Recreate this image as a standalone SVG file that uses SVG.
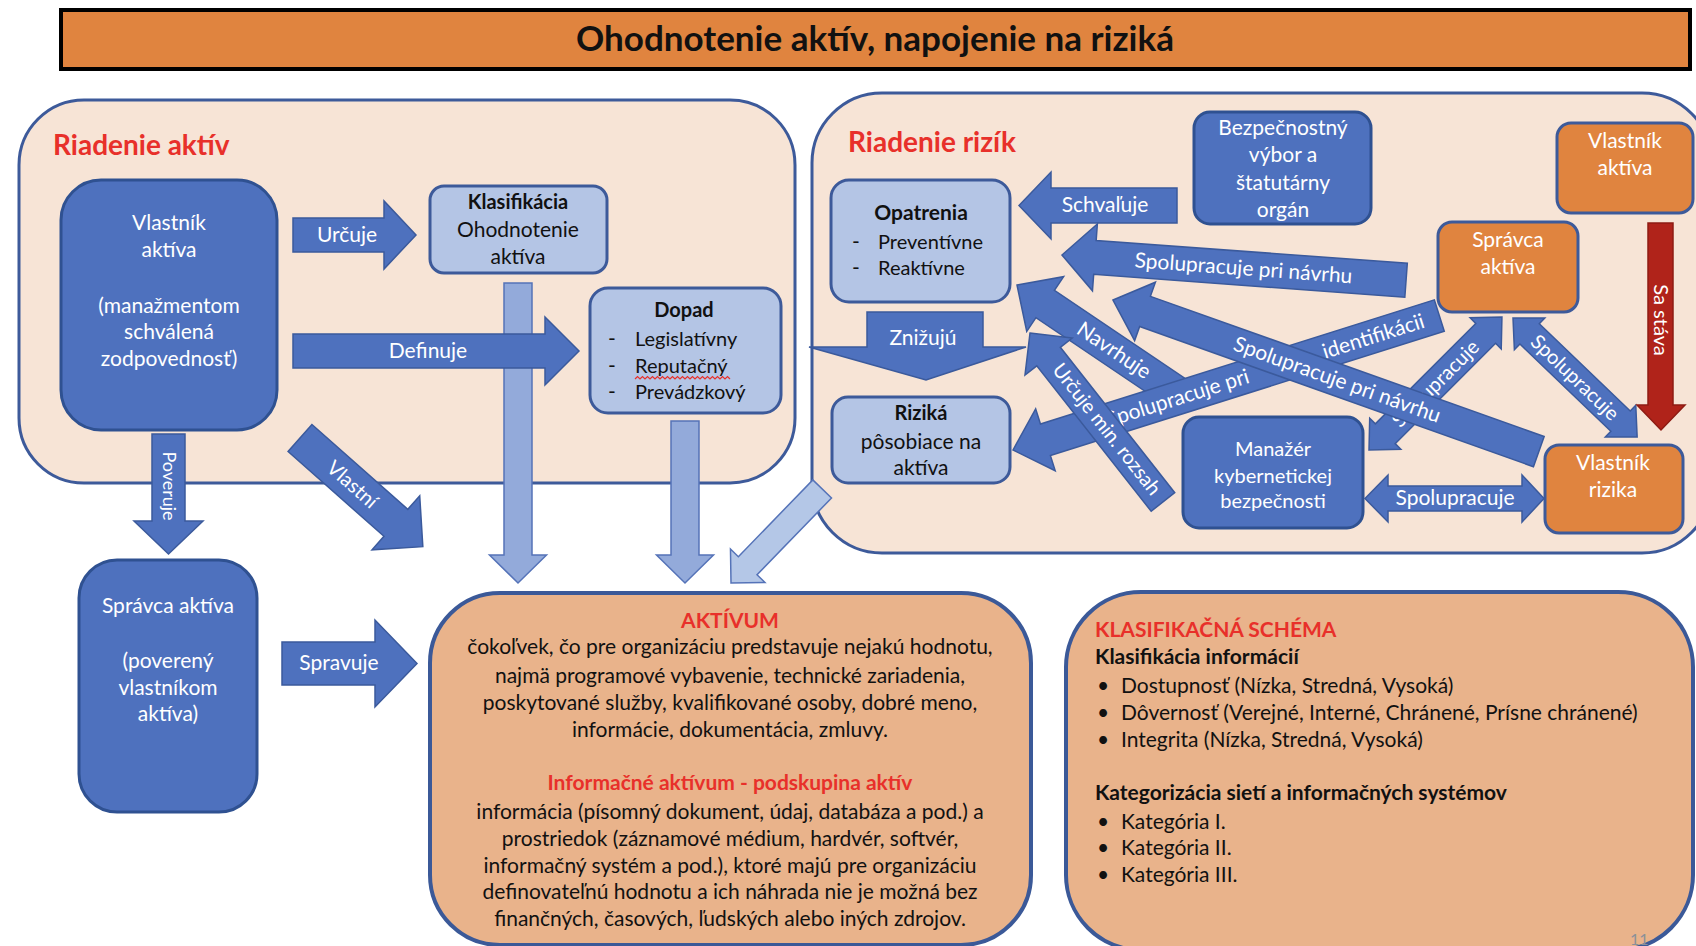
<svg xmlns="http://www.w3.org/2000/svg" width="1696" height="946" viewBox="0 0 1696 946">
<style>
text{font-family:Lato,"Liberation Sans","DejaVu Sans",sans-serif;font-size:21px}
.c{text-anchor:middle}
.w{fill:#fff}
.k{fill:#111}
.b{font-weight:bold}
.r{fill:#E8302A}
.s19{font-size:20px}
.panel{fill:#F7E4D6;stroke:#3D5A9A;stroke-width:3}
.big{fill:#E9B38B;stroke:#3B5998;stroke-width:4}
.bn{fill:#4E71BE;stroke:#2F5191;stroke-width:3}
.ln{fill:#B4C5E5;stroke:#3D5A9A;stroke-width:3}
.on{fill:#E0843F;stroke:#3D5A9A;stroke-width:3}
.ba{fill:#4E71BE;stroke:#3B5A9C;stroke-width:1.5}
.la{fill:#93AADA;stroke:#5573B8;stroke-width:1.5}
.la2{fill:#B4C7E7;stroke:#5573B8;stroke-width:1.5}
.ra{fill:#B0231A;stroke:#8E1B13;stroke-width:1.5}
</style>

<!-- Title -->
<g id="title">
<rect x="61" y="10" width="1629" height="59" fill="#E0843F" stroke="#000" stroke-width="4"/>
<text x="875" y="51" class="c b k" style="font-size:35px">Ohodnotenie aktív, napojenie na riziká</text>
</g>

<!-- Panels -->
<g id="panel-aktiv">
<rect x="19" y="100" width="776" height="383" rx="65" class="panel"/>
<text x="53" y="155" class="b r" style="font-size:28px">Riadenie aktív</text>
</g>
<g id="panel-rizik">
<rect x="812" y="93" width="900" height="460" rx="70" class="panel"/>
<text x="848" y="152" class="b r" style="font-size:28px">Riadenie rizík</text>
</g>

<!-- Connectors -->
<g id="connectors">
<!-- left panel -->
<g id="c-klas-akt"><polygon class="la" points="504,283 532,283 532,555 546.5,555 518,583 489.5,555 504,555"/></g>
<g id="c-dopad-akt"><polygon class="la" points="671,421 699,421 699,555 713.5,555 685,583 656.5,555 671,555"/></g>
<g id="c-urcuje"><polygon class="ba" points="293,218 384,218 384,201 416,235 384,269 384,252 293,252"/>
<text x="347" y="242" class="c w">Určuje</text></g>
<g id="c-definuje"><polygon class="ba" points="293,334 545,334 545,317 579,351 545,385 545,368 293,368"/>
<text x="428" y="358" class="c w">Definuje</text></g>
<g id="c-poveruje"><polygon class="ba" points="152,434 185,434 185,521 203,521 168.5,554 134,521 152,521"/>
<text transform="translate(168.5,486) rotate(90)" y="6" class="c w" style="font-size:18px">Poveruje</text></g>
<g id="c-vlastni" transform="translate(300,438) rotate(41.5)"><polygon class="ba" points="0,-18 128,-18 128,-36 164,0 128,36 128,18 0,18"/>
<text x="70" y="7" class="c w s19">Vlastní</text></g>
<g id="c-spravuje"><polygon class="ba" points="282,642 375,642 375,620 417,663.5 375,707 375,685 282,685"/>
<text x="339" y="670" class="c w">Spravuje</text></g>
<g id="c-rizika-akt" transform="translate(731,583) rotate(-45.9)"><polygon class="la2" points="0,0 24,-24 24,-13 131,-13 131,13 24,13 24,24"/></g>

<!-- right panel -->
<g id="c-znizuju"><polygon class="ba" points="867,312 983,312 983,347 1026,347 926,380 809,347 867,347"/>
<text x="923" y="345" class="c w">Znižujú</text></g>
<g id="c-schvaluje"><polygon class="ba" points="1019,205.5 1051,172 1051,188 1177,188 1177,223 1051,223 1051,239"/>
<text x="1105" y="212" class="c w">Schvaľuje</text></g>
<g id="c-spol-navrh-1" transform="translate(1062,255) rotate(4.2)"><polygon class="ba" points="0,0 33,-33.5 33,-17 345,-17 345,17 33,17 33,33.5"/>
<text x="182" y="7" class="c w">Spolupracuje pri návrhu</text></g>
<g id="c-navrhuje" transform="translate(1017,285) rotate(34)"><polygon class="ba" points="0,0 34,-33 34,-16.5 205,-16.5 205,16.5 34,16.5 34,33"/>
<text x="117" y="7" class="c w">Navrhuje</text></g>
<g id="c-identif" transform="translate(1013,450) rotate(-17.5)"><polygon class="ba" points="0,0 34,-32.5 34,-16.5 447,-16.5 447,16.5 34,16.5 34,32.5"/>
<text x="98" y="7" class="w">Spolupracuje pri<tspan x="325">identifikácii</tspan></text></g>
<g id="c-urcuje-min" transform="translate(1030,333) rotate(51.8)"><polygon class="ba" points="0,0 30,-30 30,-15 215,-15 215,15 30,15 30,30"/>
<text x="123" y="6" class="c w s19">Určuje min. rozsah</text></g>
<g id="c-spol-man-spr" transform="translate(1369,450) rotate(-45)"><polygon class="ba" points="0,0 23,-22 23,-14 165,-14 165,-22 188,0 165,22 165,14 23,14 23,22"/>
<text x="94" y="7" class="c w s19">Spolupracuje</text></g>
<g id="c-spol-navrh-2" transform="translate(1113,300) rotate(19.6)"><polygon class="ba" points="0,0 34,-31 34,-16 452,-16 452,16 34,16 34,31"/>
<text x="238" y="7" class="c w">Spolupracuje pri návrhu</text></g>
<g id="c-spol-spr-vr" transform="translate(1513,318) rotate(43.8)"><polygon class="ba" points="0,0 23,-22 23,-14 149,-14 149,-22 172,0 149,22 149,14 23,14 23,22"/>
<text x="86" y="7" class="c w s19">Spolupracuje</text></g>
<g id="c-spol-man-vr"><polygon class="ba" points="1365,498.5 1388,475 1388,486 1522,486 1522,475 1544,498.5 1522,522 1522,511 1388,511 1388,522"/>
<text x="1455" y="505" class="c w">Spolupracuje</text></g>
<g id="c-sa-stava"><polygon class="ra" points="1648,223 1673,223 1673,405 1685,405 1661,430 1637,405 1648,405"/>
<text transform="translate(1660.5,320) rotate(90)" y="7" class="c w" style="font-size:20px">Sa stáva</text></g>
</g>

<!-- Nodes: left panel -->
<g id="n-vlastnik-aktiva">
<rect x="61" y="180" width="216" height="250" rx="40" class="bn"/>
<text class="c w"><tspan x="169" y="230">Vlastník</tspan><tspan x="169" y="257">aktíva</tspan><tspan x="169" y="313">(manažmentom</tspan><tspan x="169" y="339">schválená</tspan><tspan x="169" y="366">zodpovednosť)</tspan></text>
</g>
<g id="n-klasifikacia">
<rect x="430" y="186" width="177" height="87" rx="14" class="ln"/>
<text x="518" y="209" class="c k b s19">Klasifikácia</text>
<text class="c k"><tspan x="518" y="237">Ohodnotenie</tspan><tspan x="518" y="264">aktíva</tspan></text>
</g>
<g id="n-dopad">
<rect x="590" y="288" width="191" height="125" rx="18" class="ln"/>
<text x="684" y="317" class="c k b s19">Dopad</text>
<text class="k"><tspan x="608" y="346">-</tspan><tspan x="608" y="373">-</tspan><tspan x="608" y="399">-</tspan></text>
<text class="k s19"><tspan x="635" y="346">Legislatívny</tspan><tspan x="635" y="373">Reputačný</tspan><tspan x="635" y="399">Prevádzkový</tspan></text>
<path d="M635,379 l2.5,-2.5 l2.5,2.5 l2.5,-2.5 l2.5,2.5 l2.5,-2.5 l2.5,2.5 l2.5,-2.5 l2.5,2.5 l2.5,-2.5 l2.5,2.5 l2.5,-2.5 l2.5,2.5 l2.5,-2.5 l2.5,2.5 l2.5,-2.5 l2.5,2.5 l2.5,-2.5 l2.5,2.5 l2.5,-2.5 l2.5,2.5 l2.5,-2.5 l2.5,2.5 l2.5,-2.5 l2.5,2.5 l2.5,-2.5 l2.5,2.5 l2.5,-2.5 l2.5,2.5 l2.5,-2.5 l2.5,2.5 l2.5,-2.5 l2.5,2.5 l2.5,-2.5 l2.5,2.5 l2.5,-2.5 l2.5,2.5 l2.5,-2.5 l2.5,2.5" fill="none" stroke="#E8302A" stroke-width="1.2"/>
</g>
<g id="n-spravca-aktiva-left">
<rect x="79" y="560" width="178" height="252" rx="38" class="bn"/>
<text class="c w"><tspan x="168" y="613">Správca aktíva</tspan><tspan x="168" y="668">(poverený</tspan><tspan x="168" y="695">vlastníkom</tspan><tspan x="168" y="721">aktíva)</tspan></text>
</g>

<!-- Nodes: right panel -->
<g id="n-opatrenia">
<rect x="831" y="180" width="179" height="122" rx="18" class="ln"/>
<text x="921" y="220" class="c k b">Opatrenia</text>
<text class="k"><tspan x="852" y="249">-</tspan><tspan x="852" y="275">-</tspan></text>
<text class="k s19"><tspan x="878" y="249">Preventívne</tspan><tspan x="878" y="275">Reaktívne</tspan></text>
</g>
<g id="n-rizika">
<rect x="832" y="397" width="178" height="86" rx="16" class="ln"/>
<text x="921" y="420" class="c k b s19">Riziká</text>
<text class="c k"><tspan x="921" y="449">pôsobiace na</tspan><tspan x="921" y="475">aktíva</tspan></text>
</g>
<g id="n-bezpecnostny-vybor">
<rect x="1194" y="112" width="177" height="112" rx="16" class="bn"/>
<text class="c w"><tspan x="1283" y="135">Bezpečnostný</tspan><tspan x="1283" y="162">výbor a</tspan><tspan x="1283" y="190">štatutárny</tspan><tspan x="1283" y="217">orgán</tspan></text>
</g>
<g id="n-vlastnik-aktiva-r">
<rect x="1557" y="123" width="136" height="90" rx="14" class="on"/>
<text class="c w"><tspan x="1625" y="148">Vlastník</tspan><tspan x="1625" y="175">aktíva</tspan></text>
</g>
<g id="n-spravca-aktiva-r">
<rect x="1438" y="222" width="140" height="90" rx="14" class="on"/>
<text class="c w"><tspan x="1508" y="247">Správca</tspan><tspan x="1508" y="274">aktíva</tspan></text>
</g>
<g id="n-manazer">
<rect x="1183" y="417" width="180" height="111" rx="16" class="bn"/>
<text class="c w s19"><tspan x="1273" y="456">Manažér</tspan><tspan x="1273" y="483">kybernetickej</tspan><tspan x="1273" y="508">bezpečnosti</tspan></text>
</g>
<g id="n-vlastnik-rizika">
<rect x="1545" y="445" width="138" height="88" rx="14" class="on"/>
<text class="c w"><tspan x="1613" y="470">Vlastník</tspan><tspan x="1613" y="497">rizika</tspan></text>
</g>

<!-- Bottom boxes -->
<g id="n-aktivum">
<rect x="430" y="593" width="601" height="352" rx="70" class="big"/>
<text x="730" y="628" class="c b r">AKTÍVUM</text>
<text class="c k"><tspan x="730" y="654">čokoľvek, čo pre organizáciu predstavuje nejakú hodnotu,</tspan><tspan x="730" y="683">najmä programové vybavenie, technické zariadenia,</tspan><tspan x="730" y="710">poskytované služby, kvalifikované osoby, dobré meno,</tspan><tspan x="730" y="737">informácie, dokumentácia, zmluvy.</tspan></text>
<text x="730" y="790" class="c b r">Informačné aktívum - podskupina aktív</text>
<text class="c k"><tspan x="730" y="819">informácia (písomný dokument, údaj, databáza a pod.) a</tspan><tspan x="730" y="846">prostriedok (záznamové médium, hardvér, softvér,</tspan><tspan x="730" y="873">informačný systém a pod.), ktoré majú pre organizáciu</tspan><tspan x="730" y="899">definovateľnú hodnotu a ich náhrada nie je možná bez</tspan><tspan x="730" y="926">finančných, časových, ľudských alebo iných zdrojov.</tspan></text>
</g>
<g id="n-klasifikacna-schema">
<rect x="1066" y="592" width="627" height="358" rx="75" class="big"/>
<text x="1095" y="637" class="b r">KLASIFIKAČNÁ SCHÉMA</text>
<text x="1095" y="664" class="b k">Klasifikácia informácií</text>
<text class="k"><tspan x="1097" y="693">•</tspan><tspan x="1097" y="720">•</tspan><tspan x="1097" y="747">•</tspan></text>
<text class="k"><tspan x="1121" y="693">Dostupnosť (Nízka, Stredná, Vysoká)</tspan><tspan x="1121" y="720">Dôvernosť (Verejné, Interné, Chránené, Prísne chránené)</tspan><tspan x="1121" y="747">Integrita (Nízka, Stredná, Vysoká)</tspan></text>
<text x="1095" y="800" class="b k">Kategorizácia sietí a informačných systémov</text>
<text class="k"><tspan x="1097" y="829">•</tspan><tspan x="1097" y="855">•</tspan><tspan x="1097" y="882">•</tspan></text>
<text class="k"><tspan x="1121" y="829">Kategória I.</tspan><tspan x="1121" y="855">Kategória II.</tspan><tspan x="1121" y="882">Kategória III.</tspan></text>
</g>
<text x="1630" y="945" style="font-size:16px;fill:#8A9099">11</text>
</svg>
